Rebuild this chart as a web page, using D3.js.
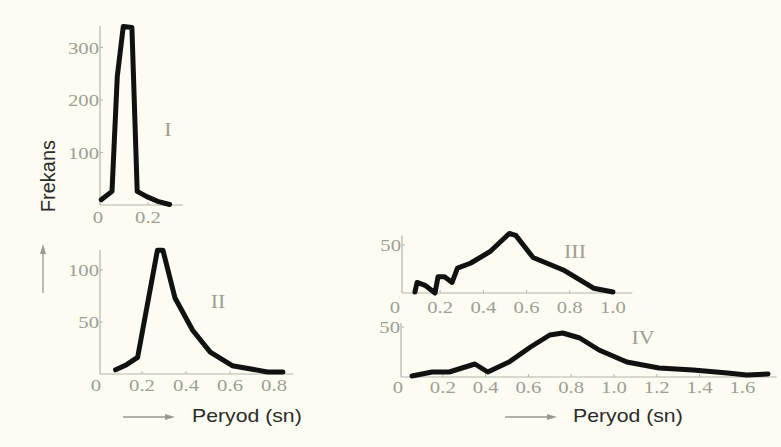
<!DOCTYPE html>
<html>
<head>
<meta charset="utf-8">
<script src="https://cdn.jsdelivr.net/npm/d3@7"></script>
<style>
html,body{margin:0;padding:0;background:#fdfcf3;}
svg{display:block;}
</style>
</head>
<body>
<svg id="chart" width="781" height="447"></svg>
<script>
// ---- Data ----
const periodI  = [0.005, 0.05, 0.072, 0.097, 0.133, 0.155, 0.195, 0.24, 0.29];
const freqI    = [10, 26, 245, 340, 338, 26, 16, 7, 1];
const periodII = [0.08, 0.13, 0.18, 0.27, 0.295, 0.35, 0.43, 0.51, 0.61, 0.77, 0.84];
const freqII   = [4, 9, 16, 119, 119, 73, 42, 21, 8, 2, 2];
const periodIII = [0.083, 0.093, 0.13, 0.176, 0.19, 0.22, 0.255, 0.28, 0.34, 0.43, 0.52, 0.55, 0.63, 0.77, 0.91, 1.0];
const freqIII   = [1, 11, 8, 0, 17, 17, 11, 26, 31, 43, 62, 60, 37, 24, 5, 1];
const periodIV = [0.056, 0.15, 0.23, 0.29, 0.35, 0.41, 0.51, 0.61, 0.70, 0.76, 0.84, 0.93, 1.06, 1.21, 1.37, 1.53, 1.62, 1.72];
const freqIV   = [1, 5, 5, 9, 13, 5, 15, 30, 42, 44, 39, 27, 15, 9, 7, 4, 2, 3];

const xTicksI = [0, 0.2], yTicksI = [100, 200, 300];
const xTicksII = [0, 0.2, 0.4, 0.6, 0.8], yTicksII = [50, 100];
const xTicksIII = [0, 0.2, 0.4, 0.6, 0.8, 1.0], yTicksIII = [50];
const xTicksIV = [0, 0.2, 0.4, 0.6, 0.8, 1.0, 1.2, 1.4, 1.6], yTicksIV = [50];
const panelLabels = ["I", "II", "III", "IV"];
const yTitle = "Frekans";
const xTitle = "Peryod (sn)";

// ---- Layout ----
const svg = d3.select("#chart");
const tickColor = "#9f9e95", axisColor = "#b5b4ab", lineColor = "#111";

const panels = [
  {px: periodI, fy: freqI, xt: xTicksI, yt: yTicksI, label: panelLabels[0],
   xd: [0, 0.345], xr: [100, 182.8], yd: [0, 341], yr: [205, 26],
   axisX: 100, lab: [168, 136], tickDy: 18},
  {px: periodII, fy: freqII, xt: xTicksII, yt: yTicksII, label: panelLabels[1],
   xd: [0, 0.886], xr: [98, 293], yd: [0, 119], yr: [374, 250.2],
   axisX: 100, lab: [218, 308], tickDy: 17},
  {px: periodIII, fy: freqIII, xt: xTicksIII, yt: yTicksIII, label: panelLabels[2],
   xd: [0, 1.09], xr: [397, 632.4], yd: [0, 60], yr: [293, 235.4],
   axisX: 402, lab: [575, 258], tickDy: 20},
  {px: periodIV, fy: freqIV, xt: xTicksIV, yt: yTicksIV, label: panelLabels[3],
   xd: [0, 1.76], xr: [400, 776.6], yd: [0, 54], yr: [377, 323],
   axisX: 401, lab: [643, 344], tickDy: 16}
];

function serifText(g, x, y, txt, anchor, size) {
  g.append("text")
    .attr("transform", `translate(${x},${y}) scale(1.22,1)`)
    .attr("text-anchor", anchor)
    .attr("font-family", "Liberation Serif, Times New Roman, serif")
    .attr("font-size", size)
    .attr("fill", tickColor)
    .text(txt);
}

panels.forEach(p => {
  const x = d3.scaleLinear().domain(p.xd).range(p.xr);
  const y = d3.scaleLinear().domain(p.yd).range(p.yr);
  const g = svg.append("g");
  const x0 = p.axisX, y0 = y(0);
  // axes lines
  g.append("line").attr("x1", x0).attr("x2", x0).attr("y1", y0).attr("y2", y(p.yd[1]))
    .attr("stroke", axisColor).attr("stroke-width", 1.2);
  g.append("line").attr("x1", x0).attr("x2", x(p.xd[1])).attr("y1", y0).attr("y2", y0)
    .attr("stroke", axisColor).attr("stroke-width", 1.2);
  // y ticks
  p.yt.forEach(v => {
    g.append("line").attr("x1", x0).attr("x2", x0 + 3).attr("y1", y(v)).attr("y2", y(v))
      .attr("stroke", axisColor).attr("stroke-width", 1);
    serifText(g, x0 - 1, y(v) + 6, v, "end", 17);
  });
  // x ticks
  p.xt.forEach(v => {
    if (v > 0) g.append("line").attr("x1", x(v)).attr("x2", x(v)).attr("y1", y0).attr("y2", y0 - 3)
      .attr("stroke", axisColor).attr("stroke-width", 1);
    serifText(g, x(v) - (v === 0 ? 2 : 0), y0 + p.tickDy, v === 0 ? "0" : d3.format(".1f")(v), "middle", 17);
  });
  // line
  const pts = p.px.map((d, i) => [d, p.fy[i]]);
  g.append("path")
    .attr("d", d3.line().x(d => x(d[0])).y(d => y(d[1]))(pts))
    .attr("fill", "none").attr("stroke", lineColor).attr("stroke-width", 5)
    .attr("stroke-linejoin", "round").attr("stroke-linecap", "round");
  // panel label
  serifText(g, p.lab[0], p.lab[1], p.label, "middle", 18);
});

// y title
svg.append("text")
  .attr("transform", "translate(55,176) rotate(-90)")
  .attr("text-anchor", "middle")
  .attr("font-family", "Liberation Sans, Arial, sans-serif")
  .attr("font-size", 20).attr("fill", "#2b2b2b")
  .text(yTitle);

// up arrow
const arrowColor = "#9a9a92";
svg.append("line").attr("x1", 43).attr("x2", 43).attr("y1", 293).attr("y2", 252)
  .attr("stroke", arrowColor).attr("stroke-width", 1.3);
svg.append("path").attr("d", "M43,244 L40,254 L46,254 Z").attr("fill", arrowColor);

// right arrows and x titles
[[123, 192], [505, 573]].forEach(([ax, tx]) => {
  svg.append("line").attr("x1", ax).attr("x2", ax + 45).attr("y1", 417).attr("y2", 417)
    .attr("stroke", arrowColor).attr("stroke-width", 1.3);
  svg.append("path").attr("d", `M${ax + 52},417 L${ax + 42},414 L${ax + 42},420 Z`).attr("fill", arrowColor);
  svg.append("text")
    .attr("transform", `translate(${tx},422) scale(1.18,1)`)
    .attr("font-family", "Liberation Sans, Arial, sans-serif")
    .attr("font-size", 18).attr("fill", "#2b2b2b")
    .text(xTitle);
});
</script>
</body>
</html>
